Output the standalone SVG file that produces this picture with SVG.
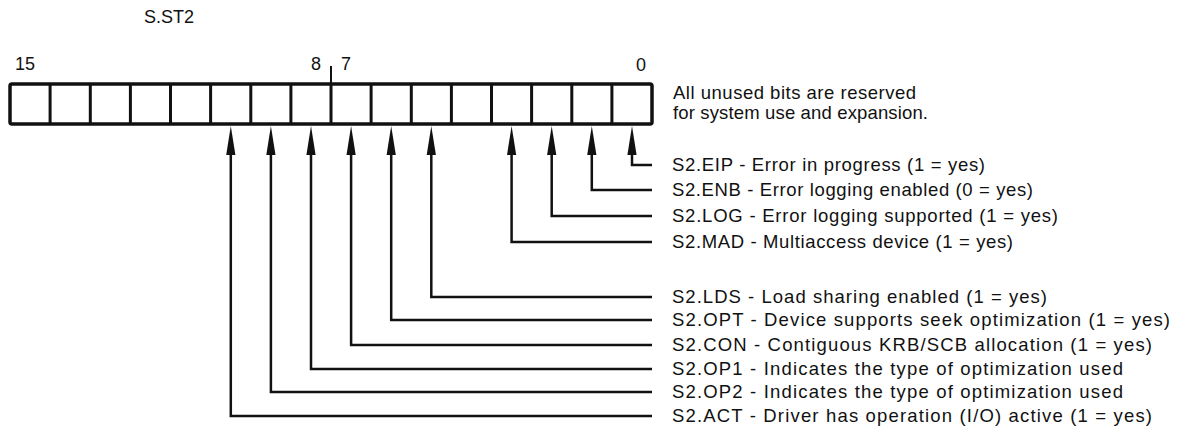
<svg xmlns="http://www.w3.org/2000/svg" width="1179" height="429" viewBox="0 0 1179 429">
<style>
text{font-family:"Liberation Sans",Arial,Helvetica,sans-serif;fill:#111;}
.lbl{font-size:18.5px;}
.num{font-size:18px;}
.box{fill:#fff;stroke:#111;stroke-width:3.5;}
.div{stroke:#111;stroke-width:3;}
.conn{fill:none;stroke:#111;stroke-width:2.5;stroke-linejoin:miter;}
</style>
<defs>
<marker id="ah" markerUnits="userSpaceOnUse" markerWidth="40" markerHeight="20" refX="0" refY="0" orient="auto" overflow="visible" viewBox="-10 -10 40 20">
<path d="M24,0 L-5,-4.6 L-5,4.6 Z" fill="#111"/>
</marker>
</defs>
<rect width="1179" height="429" fill="#fff"/>
<g id="title"><text class="num" x="144" y="23">S.ST2</text></g>
<g id="bitnumbers">
<text class="num" x="15" y="70">15</text>
<text class="num" x="311" y="70">8</text>
<text class="num" x="341" y="70">7</text>
<text class="num" x="636" y="71">0</text>
<line x1="331" y1="66" x2="331" y2="84" stroke="#111" stroke-width="2"/>
</g>
<g id="register">
<rect class="box" x="10" y="84" width="642" height="40" rx="2"/>
<g class="div">
<line x1="50.1" y1="84" x2="50.1" y2="124"/>
<line x1="90.3" y1="84" x2="90.3" y2="124"/>
<line x1="130.4" y1="84" x2="130.4" y2="124"/>
<line x1="170.5" y1="84" x2="170.5" y2="124"/>
<line x1="210.6" y1="84" x2="210.6" y2="124"/>
<line x1="250.8" y1="84" x2="250.8" y2="124"/>
<line x1="290.9" y1="84" x2="290.9" y2="124"/>
<line x1="331" y1="84" x2="331" y2="124"/>
<line x1="371.1" y1="84" x2="371.1" y2="124"/>
<line x1="411.3" y1="84" x2="411.3" y2="124"/>
<line x1="451.4" y1="84" x2="451.4" y2="124"/>
<line x1="491.5" y1="84" x2="491.5" y2="124"/>
<line x1="531.6" y1="84" x2="531.6" y2="124"/>
<line x1="571.8" y1="84" x2="571.8" y2="124"/>
<line x1="611.9" y1="84" x2="611.9" y2="124"/>
</g>
</g>
<g id="note">
<text class="lbl" x="673" y="99" textLength="243" lengthAdjust="spacing">All unused bits are reserved</text>
<text class="lbl" x="673" y="119" textLength="255" lengthAdjust="spacing">for system use and expansion.</text>
</g>
<g id="connectors">
<path class="conn" d="M652,165 H632 V150" marker-end="url(#ah)"/>
<path class="conn" d="M652,190 H591.8 V150" marker-end="url(#ah)"/>
<path class="conn" d="M652,216 H551.7 V150" marker-end="url(#ah)"/>
<path class="conn" d="M652,242 H511.6 V150" marker-end="url(#ah)"/>
<path class="conn" d="M652,297 H431.3 V150" marker-end="url(#ah)"/>
<path class="conn" d="M652,320 H391.2 V150" marker-end="url(#ah)"/>
<path class="conn" d="M652,345 H351.1 V150" marker-end="url(#ah)"/>
<path class="conn" d="M652,369 H311 V150" marker-end="url(#ah)"/>
<path class="conn" d="M652,392 H270.9 V150" marker-end="url(#ah)"/>
<path class="conn" d="M652,416 H230.8 V150" marker-end="url(#ah)"/>
</g>
<g id="bit0"><text class="lbl" x="672" y="171" textLength="313" lengthAdjust="spacing">S2.EIP - Error in progress (1 = yes)</text></g>
<g id="bit1"><text class="lbl" x="672" y="196" textLength="361" lengthAdjust="spacing">S2.ENB - Error logging enabled (0 = yes)</text></g>
<g id="bit2"><text class="lbl" x="672" y="222" textLength="386" lengthAdjust="spacing">S2.LOG - Error logging supported (1 = yes)</text></g>
<g id="bit3"><text class="lbl" x="672" y="248" textLength="341" lengthAdjust="spacing">S2.MAD - Multiaccess device (1 = yes)</text></g>
<g id="bit5"><text class="lbl" x="672" y="303" textLength="375" lengthAdjust="spacing">S2.LDS - Load sharing enabled (1 = yes)</text></g>
<g id="bit6"><text class="lbl" x="672" y="326" textLength="498" lengthAdjust="spacing">S2.OPT - Device supports seek optimization (1 = yes)</text></g>
<g id="bit7"><text class="lbl" x="672" y="351" textLength="480" lengthAdjust="spacing">S2.CON - Contiguous KRB/SCB allocation (1 = yes)</text></g>
<g id="bit8"><text class="lbl" x="672" y="375" textLength="451" lengthAdjust="spacing">S2.OP1 - Indicates the type of optimization used</text></g>
<g id="bit9"><text class="lbl" x="672" y="398" textLength="451" lengthAdjust="spacing">S2.OP2 - Indicates the type of optimization used</text></g>
<g id="bit10"><text class="lbl" x="672" y="422" textLength="480" lengthAdjust="spacing">S2.ACT - Driver has operation (I/O) active (1 = yes)</text></g>
</svg>
